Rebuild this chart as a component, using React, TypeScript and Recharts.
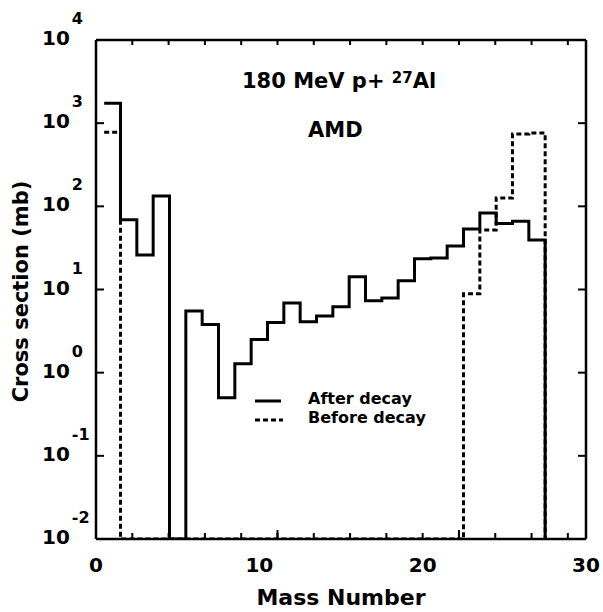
import React from "react";
import { LineChart, Line, XAxis, YAxis } from "recharts";

// mass number of each bin (bins are 1 unit wide, centred on A)
const massNumbers = [
  1, 2, 3, 4, 5, 6, 7, 8, 9, 10, 11, 12, 13, 14, 15, 16, 17, 18, 19, 20, 21,
  22, 23, 24, 25, 26, 27,
];
// cross sections (mb); 0 = nothing produced in that bin
const afterDecay = [
  1740, 69, 26, 133, 0, 5.5, 3.8, 0.5, 1.28, 2.5, 4.0, 6.9, 4.1, 4.8, 6.2,
  14.2, 7.3, 7.9, 12.7, 23.5, 24, 33.4, 53.5, 83, 62, 66, 39.5,
];
const beforeDecay = [
  780, 0, 0, 0, 0, 0, 0, 0, 0, 0, 0, 0, 0, 0, 0, 0, 0, 0, 0, 0, 0, 0, 8.9, 52,
  126, 740, 760,
];

const xTicks = [0, 10, 20, 30];
const xMinorTicks = [0, 2, 4, 6, 8, 10, 12, 14, 16, 18, 20, 22, 24, 26, 28, 30];
const yTicks = [0.01, 0.1, 1, 10, 100, 1000, 10000];
const yExponents = ["-2", "-1", "0", "1", "2", "3", "4"];

const FLOOR = 0.01;
const FONT = "'DejaVu Sans', sans-serif";

const toFloor = (v: number) => (v > 0 ? v : FLOOR);
const data = [
  ...massNumbers.map((a, i) => ({
    edge: a - 0.5,
    after: toFloor(afterDecay[i]),
    before: toFloor(beforeDecay[i]),
  })),
  { edge: massNumbers[massNumbers.length - 1] + 0.5, after: FLOOR, before: FLOOR },
];

const axisLine = { stroke: "#000", strokeWidth: 2.5 };
const tickLine = { stroke: "#000", strokeWidth: 2 };

const NoLabel = () => <g />;

const XTick = (props: any) => {
  const { x, y, payload } = props;
  return (
    <text
      x={x}
      y={y + 33}
      textAnchor="middle"
      fontFamily={FONT}
      fontWeight="bold"
      fontSize={20}
      fill="#000"
    >
      {payload.value}
    </text>
  );
};

const YTick = (props: any) => {
  const { x, y, payload } = props;
  const exp = yExponents[yTicks.indexOf(payload.value)];
  return (
    <text
      x={x - 54}
      y={y + 5}
      fontFamily={FONT}
      fontWeight="bold"
      fontSize={20}
      fill="#000"
    >
      <tspan>10</tspan>
      <tspan dx={2} dy={-21} fontSize={16}>
        {exp}
      </tspan>
    </text>
  );
};

export default function App() {
  return (
    <div style={{ position: "absolute", left: 0, top: 0, background: "#fff" }}>
      <LineChart
        width={603}
        height={612}
        data={data}
        margin={{ top: 40, right: 17, bottom: 0, left: 0 }}
      >
        <XAxis
          xAxisId="x"
          dataKey="edge"
          type="number"
          domain={[0, 30]}
          ticks={xTicks}
          allowDataOverflow
          height={73}
          tickSize={0}
          tickMargin={0}
          tickLine={false}
          axisLine={axisLine}
          tick={<XTick />}
          label={{
            content: (p: any) => (
              <text
                x={p.viewBox.x + p.viewBox.width / 2}
                y={p.viewBox.y + 66}
                textAnchor="middle"
                fontFamily={FONT}
                fontWeight="bold"
                fontSize={22}
                fill="#000"
              >
                Mass Number
              </text>
            ),
          }}
        />
        <XAxis
          xAxisId="bMinor"
          type="number"
          domain={[0, 30]}
          ticks={xMinorTicks}
          allowDataOverflow
          orientation="bottom"
          mirror
          height={1}
          tick={<NoLabel />}
          tickSize={5}
          tickLine={tickLine}
          axisLine={false}
        />
        <XAxis
          xAxisId="bMajor"
          type="number"
          domain={[0, 30]}
          ticks={xTicks}
          allowDataOverflow
          orientation="bottom"
          mirror
          height={1}
          tick={<NoLabel />}
          tickSize={9}
          tickLine={tickLine}
          axisLine={false}
        />
        <XAxis
          xAxisId="top"
          type="number"
          domain={[0, 30]}
          ticks={xMinorTicks}
          allowDataOverflow
          orientation="top"
          mirror
          height={1}
          tick={<NoLabel />}
          tickSize={5}
          tickLine={tickLine}
          axisLine={axisLine}
        />
        <YAxis
          yAxisId="y"
          scale="log"
          domain={[0.01, 10000]}
          ticks={yTicks}
          allowDataOverflow
          width={96}
          tickSize={0}
          tickMargin={0}
          tickLine={false}
          axisLine={axisLine}
          tick={<YTick />}
          label={{
            content: (p: any) => (
              <text
                x={28}
                y={p.viewBox.y + p.viewBox.height / 2 + 2}
                transform={`rotate(-90 28 ${p.viewBox.y + p.viewBox.height / 2 + 2})`}
                textAnchor="middle"
                fontFamily={FONT}
                fontWeight="bold"
                fontSize={21}
                fill="#000"
              >
                Cross section (mb)
              </text>
            ),
          }}
        />
        <YAxis
          yAxisId="leftTicks"
          scale="log"
          domain={[0.01, 10000]}
          ticks={yTicks}
          allowDataOverflow
          orientation="left"
          mirror
          width={1}
          tick={<NoLabel />}
          tickSize={8}
          tickLine={tickLine}
          axisLine={false}
        />
        <YAxis
          yAxisId="right"
          scale="log"
          domain={[0.01, 10000]}
          ticks={yTicks}
          allowDataOverflow
          orientation="right"
          mirror
          width={1}
          tick={<NoLabel />}
          tickSize={8}
          tickLine={tickLine}
          axisLine={axisLine}
        />
        <Line
          xAxisId="x"
          yAxisId="y"
          type="stepAfter"
          dataKey="before"
          stroke="#000"
          strokeWidth={3}
          strokeDasharray="5 3"
          dot={false}
          activeDot={false}
          isAnimationActive={false}
        />
        <Line
          xAxisId="x"
          yAxisId="y"
          type="stepAfter"
          dataKey="after"
          stroke="#000"
          strokeWidth={3}
          dot={false}
          activeDot={false}
          isAnimationActive={false}
        />

        {/* annotations */}
        <text x={242} y={88} fontFamily={FONT} fontWeight="bold" fontSize={21} fill="#000">
          180 MeV p+ <tspan fontSize={15} dy={-5}>27</tspan>
          <tspan dy={5}>Al</tspan>
        </text>
        <text x={308} y={137} fontFamily={FONT} fontWeight="bold" fontSize={21} fill="#000">
          AMD
        </text>

        {/* legend */}
        <line x1={255} x2={281} y1={401} y2={401} stroke="#000" strokeWidth={3} />
        <line
          x1={255}
          x2={283}
          y1={420}
          y2={420}
          stroke="#000"
          strokeWidth={3}
          strokeDasharray="5 3"
        />
        <text x={308} y={404} fontFamily={FONT} fontWeight="bold" fontSize={16} fill="#000">
          After decay
        </text>
        <text x={308} y={423} fontFamily={FONT} fontWeight="bold" fontSize={16} fill="#000">
          Before decay
        </text>
      </LineChart>
    </div>
  );
}
